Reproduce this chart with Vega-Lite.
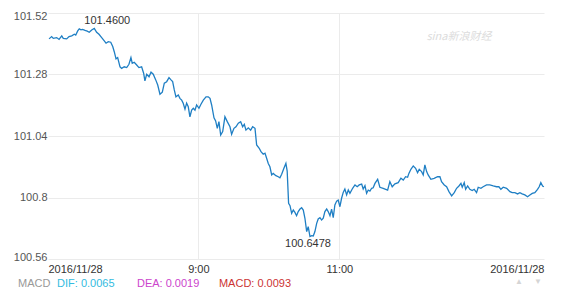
{
  "$schema": "https://vega.github.io/schema/vega-lite/v6.json",
  "width": 496,
  "height": 246,
  "autosize": "none",
  "padding": {"left": 48, "top": 13, "right": 36, "bottom": 35},
  "background": "white",
  "config": {
    "view": {"stroke": null},
    "font": "Liberation Sans",
    "axis": {"labelFont": "Liberation Sans", "labelFontSize": 11, "domain": false, "ticks": false, "title": null, "gridColor": "#ebebeb", "gridWidth": 1}
  },
  "datasets": {
    "price": [
      {"t":412.9,"v":101.419},{"t":415.1,"v":101.428},{"t":416.5,"v":101.421},{"t":419.4,"v":101.424},{"t":421.4,"v":101.417},
      {"t":423.7,"v":101.431},{"t":425.0,"v":101.421},{"t":427.9,"v":101.419},{"t":429.9,"v":101.428},{"t":432.2,"v":101.431},
      {"t":434.4,"v":101.437},{"t":435.6,"v":101.434},{"t":437.3,"v":101.450},{"t":438.6,"v":101.458},{"t":440.1,"v":101.454},
      {"t":441.5,"v":101.456},{"t":443.5,"v":101.452},{"t":445.4,"v":101.449},{"t":447.1,"v":101.445},{"t":449.2,"v":101.454},
      {"t":451.4,"v":101.46},{"t":453.4,"v":101.445},{"t":455.4,"v":101.437},{"t":457.7,"v":101.424},{"t":459.9,"v":101.411},
      {"t":461.4,"v":101.402},{"t":463.3,"v":101.408},{"t":465.4,"v":101.406},{"t":467.1,"v":101.389},{"t":468.4,"v":101.369},
      {"t":469.9,"v":101.341},{"t":471.3,"v":101.346},{"t":473.3,"v":101.310},{"t":474.7,"v":101.304},{"t":476.9,"v":101.310},
      {"t":479.0,"v":101.307},{"t":480.9,"v":101.320},{"t":482.6,"v":101.346},{"t":483.7,"v":101.324},{"t":485.4,"v":101.328},
      {"t":487.5,"v":101.317},{"t":489.4,"v":101.307},{"t":491.7,"v":101.310},{"t":493.4,"v":101.285},{"t":494.5,"v":101.255},
      {"t":496.0,"v":101.281},{"t":498.0,"v":101.271},{"t":499.7,"v":101.289},{"t":501.6,"v":101.281},{"t":503.7,"v":101.259},
      {"t":505.4,"v":101.239},{"t":507.3,"v":101.203},{"t":509.3,"v":101.211},{"t":511.0,"v":101.246},{"t":513.0,"v":101.252},
      {"t":515.0,"v":101.268},{"t":516.7,"v":101.259},{"t":518.1,"v":101.252},{"t":519.5,"v":101.220},{"t":520.9,"v":101.193},
      {"t":522.9,"v":101.200},{"t":524.3,"v":101.187},{"t":525.8,"v":101.180},{"t":527.1,"v":101.168},{"t":528.6,"v":101.145},
      {"t":530.0,"v":101.168},{"t":531.4,"v":101.154},{"t":532.8,"v":101.115},{"t":534.3,"v":101.141},{"t":535.7,"v":101.148},
      {"t":537.1,"v":101.141},{"t":538.5,"v":101.161},{"t":540.5,"v":101.148},{"t":542.2,"v":101.164},{"t":544.2,"v":101.180},
      {"t":546.5,"v":101.193},{"t":548.4,"v":101.193},{"t":549.9,"v":101.187},{"t":551.3,"v":101.161},{"t":553.3,"v":101.111},
      {"t":554.7,"v":101.099},{"t":556.1,"v":101.070},{"t":557.5,"v":101.096},{"t":559.0,"v":101.044},{"t":560.7,"v":101.057},
      {"t":562.6,"v":101.115},{"t":564.6,"v":101.096},{"t":566.9,"v":101.076},{"t":568.3,"v":101.047},{"t":570.3,"v":101.070},
      {"t":572.0,"v":101.076},{"t":574.0,"v":101.090},{"t":576.0,"v":101.096},{"t":577.7,"v":101.076},{"t":579.1,"v":101.086},
      {"t":580.5,"v":101.063},{"t":582.5,"v":101.072},{"t":584.5,"v":101.063},{"t":586.2,"v":101.076},{"t":588.2,"v":101.070},
      {"t":589.6,"v":101.005},{"t":591.8,"v":100.992},{"t":593.3,"v":100.979},{"t":595.2,"v":100.969},{"t":596.7,"v":100.973},
      {"t":598.1,"v":100.953},{"t":599.5,"v":100.933},{"t":600.9,"v":100.920},{"t":602.4,"v":100.888},{"t":603.7,"v":100.894},
      {"t":606.0,"v":100.885},{"t":608.0,"v":100.881},{"t":609.4,"v":100.877},{"t":610.9,"v":100.891},{"t":612.8,"v":100.914},
      {"t":614.5,"v":100.933},{"t":615.6,"v":100.903},{"t":616.8,"v":100.777},{"t":618.0,"v":100.768},{"t":619.4,"v":100.738},
      {"t":620.8,"v":100.751},{"t":622.2,"v":100.742},{"t":623.6,"v":100.729},{"t":625.0,"v":100.745},{"t":626.5,"v":100.755},
      {"t":627.9,"v":100.760},{"t":629.3,"v":100.751},{"t":630.7,"v":100.719},{"t":632.2,"v":100.667},{"t":633.5,"v":100.686},
      {"t":635.0,"v":100.6478},{"t":636.4,"v":100.651},{"t":637.8,"v":100.650},{"t":639.2,"v":100.667},{"t":640.7,"v":100.699},
      {"t":642.0,"v":100.716},{"t":643.5,"v":100.721},{"t":644.9,"v":100.712},{"t":646.3,"v":100.719},{"t":647.7,"v":100.745},
      {"t":649.2,"v":100.755},{"t":650.5,"v":100.745},{"t":652.0,"v":100.729},{"t":653.4,"v":100.755},{"t":654.8,"v":100.721},
      {"t":656.2,"v":100.771},{"t":657.7,"v":100.786},{"t":659.0,"v":100.790},{"t":660.5,"v":100.764},{"t":661.9,"v":100.797},
      {"t":663.3,"v":100.820},{"t":664.7,"v":100.833},{"t":666.2,"v":100.810},{"t":667.6,"v":100.829},{"t":669.0,"v":100.816},
      {"t":671.3,"v":100.836},{"t":673.3,"v":100.849},{"t":675.2,"v":100.842},{"t":676.9,"v":100.849},{"t":679.0,"v":100.852},
      {"t":680.3,"v":100.833},{"t":681.8,"v":100.846},{"t":683.2,"v":100.816},{"t":684.6,"v":100.829},{"t":686.0,"v":100.825},
      {"t":687.5,"v":100.836},{"t":688.8,"v":100.838},{"t":690.3,"v":100.855},{"t":692.6,"v":100.871},{"t":694.5,"v":100.840},
      {"t":697.3,"v":100.836},{"t":701.1,"v":100.829},{"t":703.0,"v":100.862},{"t":705.0,"v":100.842},{"t":707.3,"v":100.853},
      {"t":710.1,"v":100.858},{"t":712.4,"v":100.875},{"t":714.4,"v":100.868},{"t":716.4,"v":100.881},{"t":718.1,"v":100.879},
      {"t":719.2,"v":100.894},{"t":720.9,"v":100.910},{"t":722.9,"v":100.923},{"t":724.9,"v":100.914},{"t":726.6,"v":100.897},
      {"t":728.0,"v":100.910},{"t":730.0,"v":100.901},{"t":731.4,"v":100.888},{"t":732.8,"v":100.927},{"t":734.3,"v":100.901},
      {"t":735.6,"v":100.888},{"t":737.9,"v":100.871},{"t":740.7,"v":100.875},{"t":743.6,"v":100.881},{"t":745.6,"v":100.881},
      {"t":747.0,"v":100.862},{"t":749.3,"v":100.849},{"t":751.3,"v":100.842},{"t":753.3,"v":100.823},{"t":755.6,"v":100.806},
      {"t":757.8,"v":100.819},{"t":759.8,"v":100.836},{"t":761.8,"v":100.845},{"t":763.5,"v":100.855},{"t":764.6,"v":100.840},
      {"t":766.3,"v":100.858},{"t":767.5,"v":100.832},{"t":769.2,"v":100.845},{"t":771.1,"v":100.832},{"t":773.1,"v":100.827},
      {"t":774.8,"v":100.832},{"t":776.8,"v":100.819},{"t":778.2,"v":100.840},{"t":780.5,"v":100.836},{"t":782.4,"v":100.842},
      {"t":785.3,"v":100.849},{"t":788.1,"v":100.849},{"t":791.0,"v":100.845},{"t":793.8,"v":100.842},{"t":795.8,"v":100.842},
      {"t":797.5,"v":100.832},{"t":799.5,"v":100.840},{"t":802.4,"v":100.836},{"t":805.2,"v":100.823},{"t":807.1,"v":100.819},
      {"t":809.4,"v":100.819},{"t":811.7,"v":100.814},{"t":813.7,"v":100.819},{"t":815.6,"v":100.814},{"t":817.9,"v":100.810},
      {"t":820.2,"v":100.803},{"t":822.2,"v":100.810},{"t":824.2,"v":100.816},{"t":826.4,"v":100.819},{"t":828.7,"v":100.832},
      {"t":830.1,"v":100.842},{"t":831.5,"v":100.858},{"t":833.0,"v":100.845},{"t":834.1,"v":100.842}
    ],
    "macd": [
      {"item":"MACD","text":"MACD","t":386.5,"v":100.463},
      {"item":"DIF","text":"DIF: 0.0065","t":419.7,"v":100.463},
      {"item":"DEA","text":"DEA: 0.0019","t":487.7,"v":100.463},
      {"item":"MACDV","text":"MACD: 0.0093","t":557.5,"v":100.463}
    ]
  },
  "encoding": {
    "x": {"field": "t", "type": "quantitative",
      "scale": {"domain": [412, 834.2], "nice": false, "zero": false},
      "axis": {"values": [412, 540, 660, 834.2], "labelFlush": true, "labelPadding": 4, "labelColor": "#333",
        "labelExpr": "datum.value < 500 || datum.value > 800 ? '2016/11/28' : (datum.value == 540 ? '9:00' : '11:00')",
        "gridColor": {"condition": {"test": "datum.value == 540 || datum.value == 660", "value": "#ebebeb"}, "value": "transparent"}}},
    "y": {"field": "v", "type": "quantitative",
      "scale": {"domain": [100.56, 101.52], "nice": false, "zero": false},
      "axis": {"values": [100.56, 100.8, 101.04, 101.28, 101.52], "format": ".2~f", "labelFlush": true, "labelFlushOffset": 3, "labelPadding": 1, "labelColor": "#555"}}
  },
  "layer": [
    {"data": {"name": "price"}, "mark": {"type": "line", "color": "#1f7fc4", "strokeWidth": 1.3}},
    {"data": {"values": [{"t": 451.4, "v": 101.46, "label": "101.4600"}]},
     "mark": {"type": "text", "fontSize": 11, "color": "#333", "dx": 13, "dy": -7, "baseline": "middle"},
     "encoding": {"text": {"field": "label"}}},
    {"data": {"values": [{"t": 635.0, "v": 100.6478, "label": "100.6478"}]},
     "mark": {"type": "text", "fontSize": 11, "color": "#333", "dx": -2, "dy": 7, "baseline": "middle"},
     "encoding": {"text": {"field": "label"}}},
    {"data": {"values": [{"t": 761.8, "v": 101.428, "label": "sina新浪财经"}]},
     "mark": {"type": "text", "fontSize": 11, "font": "Noto Sans CJK SC", "fontStyle": "italic", "color": "#dcdcdc", "baseline": "middle"},
     "encoding": {"text": {"field": "label"}}},
    {"data": {"name": "macd"},
     "mark": {"type": "text", "fontSize": 11, "align": "left", "baseline": "middle"},
     "encoding": {"text": {"field": "text"},
       "color": {"field": "item", "type": "nominal", "legend": null,
         "scale": {"domain": ["MACD", "DIF", "DEA", "MACDV"], "range": ["#999999", "#33bbe0", "#cc44cc", "#cc3333"]}}}},
    {"data": {"values": [{"t": 812.8, "v": 100.472, "s": "▲"}, {"t": 829.0, "v": 100.472, "s": "▼"}]},
     "mark": {"type": "text", "fontSize": 8, "color": "#d5d5d5", "baseline": "middle"},
     "encoding": {"text": {"field": "s"}}}
  ]
}
